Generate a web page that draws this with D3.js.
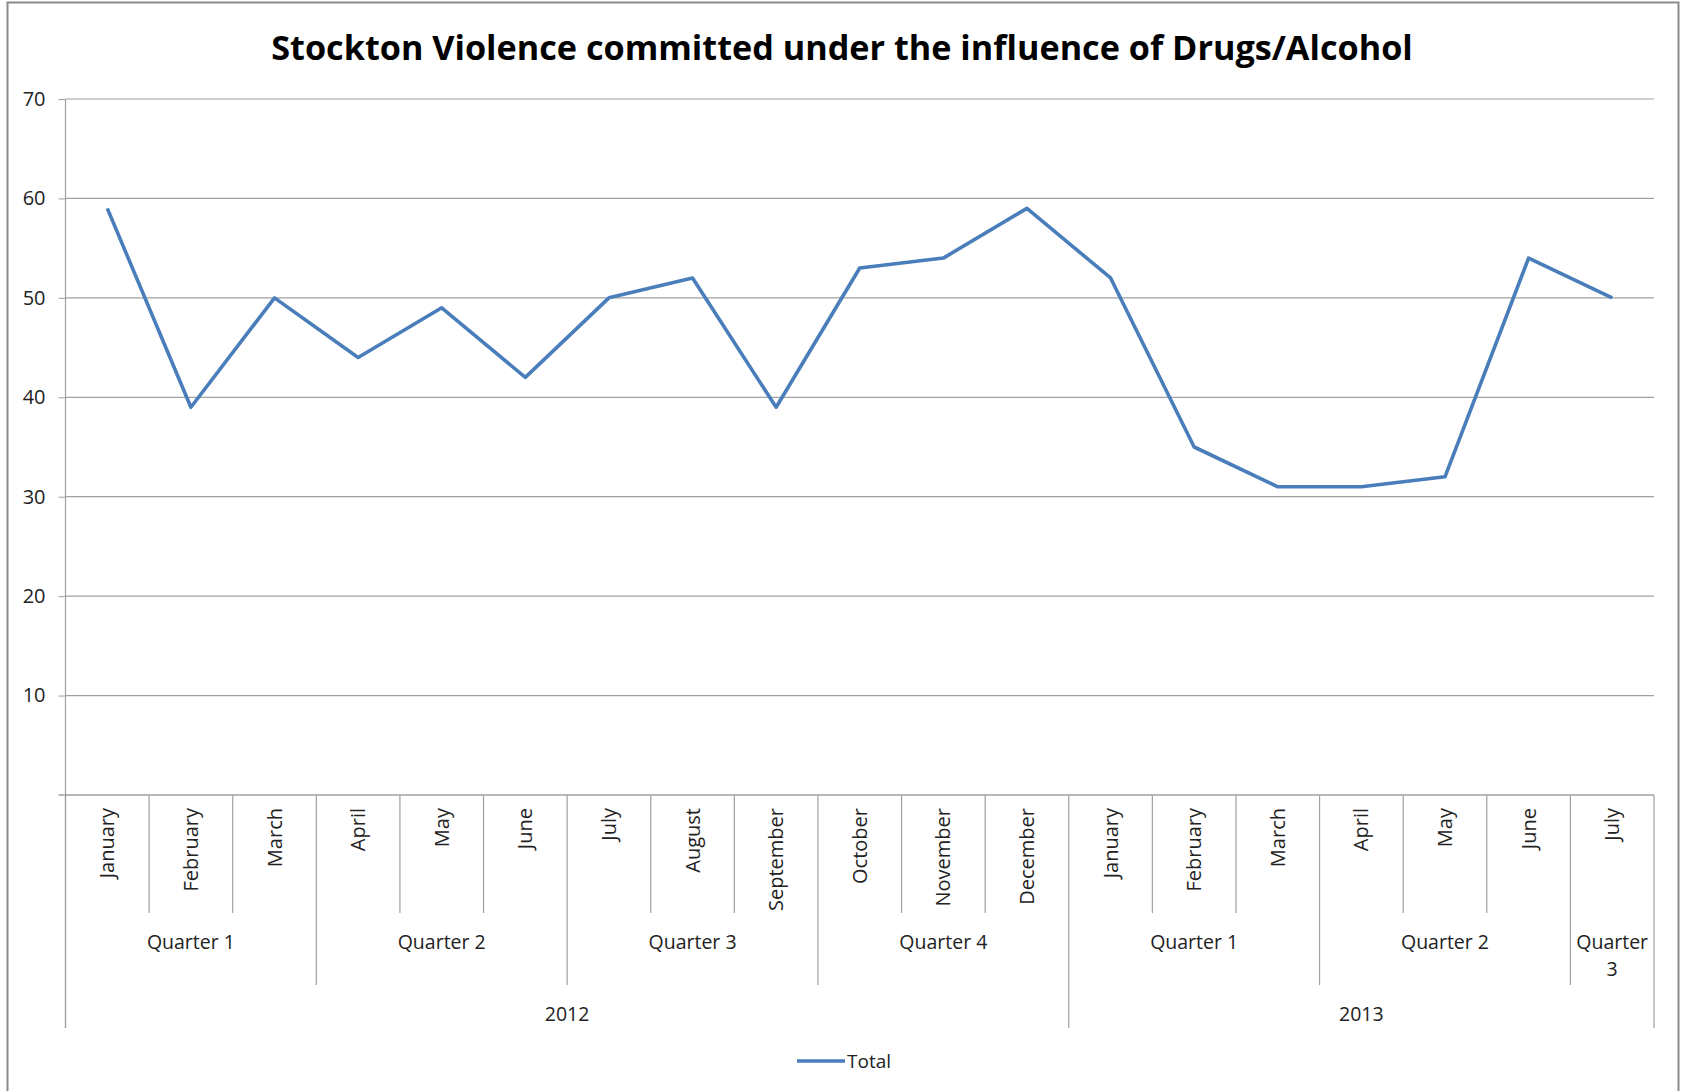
<!DOCTYPE html>
<html>
<head>
<meta charset="utf-8">
<script src="https://cdn.jsdelivr.net/npm/d3@7"></script>
<style>
  body { margin: 0; background: #fff; }
  text { font-family: "Open Sans", sans-serif; fill: #222; }
</style>
</head>
<body>
<div id="chart"></div>
<script>
const months = ["January", "February", "March", "April", "May", "June", "July", "August",
  "September", "October", "November", "December",
  "January", "February", "March", "April", "May", "June", "July"];
const quarters = ["Quarter 1", "Quarter 1", "Quarter 1", "Quarter 2", "Quarter 2", "Quarter 2",
  "Quarter 3", "Quarter 3", "Quarter 3", "Quarter 4", "Quarter 4", "Quarter 4",
  "Quarter 1", "Quarter 1", "Quarter 1", "Quarter 2", "Quarter 2", "Quarter 2", "Quarter 3"];
const years = ["2012", "2012", "2012", "2012", "2012", "2012", "2012", "2012", "2012", "2012", "2012", "2012",
  "2013", "2013", "2013", "2013", "2013", "2013", "2013"];
const totals = [59, 39, 50, 44, 49, 42, 50, 52, 39, 53, 54, 59, 52, 35, 31, 31, 32, 54, 50];
const yTicks = [10, 20, 30, 40, 50, 60, 70];
const title = "Stockton Violence committed under the influence of Drugs/Alcohol";
const seriesName = "Total";

const W = 1684, H = 1091;
const plotLeft = 65.5, plotRight = 1654, plotTop = 99, plotBottom = 795;
const monthLineEnd = 913, quarterLineEnd = 985, yearLineEnd = 1028;
const gridColor = "#a0a0a0";
const lineColor = "#4a7ebb";

let svg = d3.select("#chart").append("svg")
  .attr("width", W)
  .attr("height", H);

// outer frame
svg.append("rect")
  .attr("x", 7.5).attr("y", 2.5)
  .attr("width", 1671).attr("height", 1100)
  .attr("fill", "#fff")
  .attr("stroke", "#8c8c8c")
  .attr("stroke-width", 2);

// title, sized to span the same width as the reference
let t = svg.append("text")
  .attr("x", 842).attr("y", 60)
  .attr("text-anchor", "middle")
  .style("font-weight", "bold")
  .style("font-size", "36px")
  .style("fill", "#000")
  .text(title);
let tw = t.node().getComputedTextLength();
t.style("font-size", (36 * 1142 / tw) + "px");

let x = d3.scaleBand()
  .domain(d3.range(months.length))
  .range([plotLeft, plotRight])
  .paddingInner(0).paddingOuter(0);

let y = d3.scaleLinear()
  .domain([0, 70])
  .range([plotBottom, plotTop]);

// y axis with gridlines
let yAxis = svg.append("g")
  .attr("transform", "translate(" + plotLeft + ",0)")
  .call(d3.axisLeft(y).tickValues(yTicks).tickSize(7).tickPadding(13));
yAxis.select(".domain").remove();
yAxis.selectAll(".tick line").attr("stroke", gridColor);
yAxis.selectAll(".tick text")
  .style("font-size", "20px")
  .style("font-family", "'Open Sans', sans-serif")
  .attr("fill", "#222");

svg.append("g")
  .selectAll("line")
  .data(yTicks)
  .enter()
  .append("line")
  .attr("x1", plotLeft).attr("x2", plotRight)
  .attr("y1", d => y(d)).attr("y2", d => y(d))
  .attr("stroke", gridColor)
  .attr("stroke-width", 1.2);

// y axis line (runs down to the year row)
svg.append("line")
  .attr("x1", plotLeft).attr("x2", plotLeft)
  .attr("y1", plotTop).attr("y2", yearLineEnd)
  .attr("stroke", gridColor).attr("stroke-width", 1.2);

// x axis baseline (with small tick at 0)
svg.append("line")
  .attr("x1", plotLeft - 7).attr("x2", plotRight)
  .attr("y1", y(0)).attr("y2", y(0))
  .attr("stroke", gridColor).attr("stroke-width", 1.5);

// separators between categories, length depends on grouping level
let bounds = d3.range(months.length + 1).map(i => {
  let end = monthLineEnd;
  if (i === 0 || i === months.length || years[i] !== years[i - 1]) end = yearLineEnd;
  else if (quarters[i] !== quarters[i - 1]) end = quarterLineEnd;
  return { x: i < months.length ? x(i) : plotRight, end: end };
});
svg.append("g")
  .selectAll("line")
  .data(bounds)
  .enter()
  .append("line")
  .attr("x1", d => d.x).attr("x2", d => d.x)
  .attr("y1", y(0)).attr("y2", d => d.end)
  .attr("stroke", gridColor)
  .attr("stroke-width", 1.2);

// month labels (rotated)
let xAxis = svg.append("g")
  .attr("transform", "translate(0," + y(0) + ")")
  .call(d3.axisBottom(x).tickSize(0).tickFormat(i => months[i]));
xAxis.select(".domain").remove();
xAxis.selectAll(".tick text")
  .attr("transform", "rotate(-90)")
  .attr("text-anchor", "end")
  .attr("x", -13)
  .attr("y", 0)
  .attr("dy", "0.35em")
  .style("font-size", "20px")
  .style("font-family", "'Open Sans', sans-serif")
  .attr("fill", "#222");

// group runs
function runs(keys) {
  let out = [];
  keys.forEach((k, i) => {
    let last = out[out.length - 1];
    if (last && last.key === k) last.end = i;
    else out.push({ key: k, start: i, end: i });
  });
  return out;
}

let quarterRuns = runs(quarters.map((q, i) => years[i] + "|" + q));
let qText = svg.append("g")
  .selectAll("text")
  .data(quarterRuns)
  .enter()
  .append("text")
  .attr("text-anchor", "middle")
  .style("font-size", "19.5px");
qText.each(function (d) {
  let cx = (x(d.start) + x(d.end) + x.bandwidth()) / 2;
  let label = d.key.split("|")[1];
  let sel = d3.select(this);
  if (d.end === d.start) {
    let parts = label.split(" ");
    sel.append("tspan").attr("x", cx).attr("y", 949).text(parts[0]);
    sel.append("tspan").attr("x", cx).attr("y", 976).text(parts[1]);
  } else {
    sel.attr("x", cx).attr("y", 949).text(label);
  }
});

let yearRuns = runs(years);
svg.append("g")
  .selectAll("text")
  .data(yearRuns)
  .enter()
  .append("text")
  .attr("x", d => (x(d.start) + x(d.end) + x.bandwidth()) / 2)
  .attr("y", 1021)
  .attr("text-anchor", "middle")
  .style("font-size", "19.5px")
  .text(d => d.key);

// series line
svg.append("path")
  .datum(totals)
  .attr("fill", "none")
  .attr("stroke", lineColor)
  .attr("stroke-width", 3.6)
  .attr("stroke-linejoin", "round")
  .attr("d", d3.line()
    .x((d, i) => x(i) + x.bandwidth() / 2)
    .y(d => y(d)));

// legend
svg.append("line")
  .attr("x1", 797).attr("x2", 845)
  .attr("y1", 1061).attr("y2", 1061)
  .attr("stroke", lineColor)
  .attr("stroke-width", 3.6);
svg.append("text")
  .attr("x", 847).attr("y", 1067.5)
  .style("font-size", "19px")
  .text(seriesName);
</script>
</body>
</html>
